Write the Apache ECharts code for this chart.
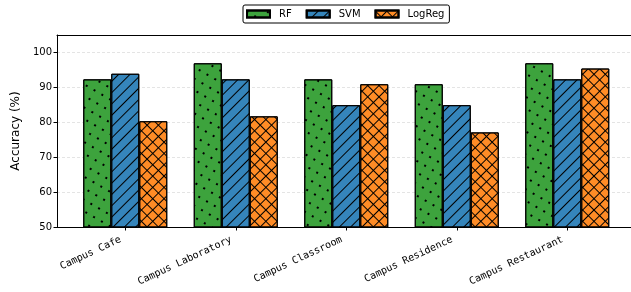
<!DOCTYPE html>
<html>
<head>
<meta charset="UTF-8" />
<title>Accuracy by location</title>
<script src="https://cdn.jsdelivr.net/npm/echarts@6/dist/echarts.min.js"></script>
<style>
  html, body { margin: 0; padding: 0; background: #fff; }
  #main { width: 631px; height: 292px; }
</style>
</head>
<body>
<div id="main"></div>
<script>
// data
var categories = ['Campus Cafe', 'Campus Laboratory', 'Campus Classroom', 'Campus Residence', 'Campus Restaurant'];
var rfValues = [92.3, 96.9, 92.3, 90.9, 96.9];
var svmValues = [93.9, 92.3, 84.9, 84.9, 92.3];
var logregValues = [80.3, 81.7, 90.9, 77.1, 95.4];
var yTicks = [50, 60, 70, 80, 90, 100];

// hatch patterns (matplotlib '.', '/', 'x')
var dotsDecal = {
    symbol: 'rect', symbolSize: 1, color: '#000',
    dashArrayX: [[2, 7]], dashArrayY: [2, 7.5]
};
var slashDecal = {
    symbol: 'rect', symbolSize: 1, color: '#000',
    dashArrayX: [1, 0], dashArrayY: [1, 6.5], rotation: -Math.PI / 4
};
var crossDecal = {
    symbol: 'rect', symbolSize: 1, color: '#000',
    dashArrayX: [[1, 0], [1, 6.5]], dashArrayY: [1, 0, 6.5, 0], rotation: Math.PI / 4
};

function barSeries(name, values, color, decal) {
    return {
        name: name,
        type: 'bar',
        xAxisIndex: 0,
        yAxisIndex: 0,
        data: values,
        barWidth: 28,
        barGap: '0%',
        itemStyle: { color: color, borderColor: '#000', borderWidth: 1, decal: decal },
        emphasis: { disabled: true }
    };
}

var myChart = echarts.init(document.getElementById('main'));
myChart.setOption({
    animation: false,
    aria: { enabled: true, decal: { show: true } },
    textStyle: { fontFamily: 'DejaVu Sans' },
    legend: {
        top: 5,
        left: 243,
        icon: 'rect',
        itemWidth: 23,
        itemHeight: 7,
        itemGap: 14,
        padding: [4, 5, 4, 3],
        borderColor: '#000',
        borderWidth: 1,
        borderRadius: 2,
        textStyle: { fontSize: 10, color: '#000', fontFamily: 'DejaVu Sans', padding: [0, 0, 0, 4] },
        data: ['RF', 'SVM', 'LogReg']
    },
    grid: [
        { left: 70, right: 8.5, top: 35, bottom: 65 },
        { left: 57, right: 0, top: 35, bottom: 65 }
    ],
    xAxis: [{
        type: 'category',
        gridIndex: 0,
        data: categories,
        axisLine: { show: false },
        axisTick: { show: true, alignWithLabel: true, length: 3.5, lineStyle: { color: '#000' } },
        axisLabel: {
            rotate: 25,
            margin: 10,
            padding: [0, 5, 0, 0],
            fontSize: 10,
            color: '#000',
            fontFamily: 'DejaVu Sans Mono',
            interval: 0
        }
    }, {
        type: 'value',
        gridIndex: 1,
        position: 'bottom',
        min: 0, max: 1,
        axisLine: { show: true, onZero: false, lineStyle: { color: '#000', width: 1 } },
        axisTick: { show: false },
        axisLabel: { show: false },
        splitLine: { show: false }
    }, {
        type: 'value',
        gridIndex: 1,
        position: 'top',
        min: 0, max: 1,
        axisLine: { show: true, onZero: false, lineStyle: { color: '#000', width: 1 } },
        axisTick: { show: false },
        axisLabel: { show: false },
        splitLine: { show: false }
    }],
    yAxis: [{
        type: 'value',
        gridIndex: 0,
        min: 50, max: 105,
        show: false
    }, {
        type: 'value',
        gridIndex: 1,
        min: yTicks[0], max: 105, interval: 10,
        name: 'Accuracy (%)',
        nameLocation: 'middle',
        nameGap: 29,
        nameTextStyle: { fontSize: 12, color: '#000', fontFamily: 'DejaVu Sans' },
        axisLine: { show: true, lineStyle: { color: '#000', width: 1 } },
        axisTick: { show: true, length: 3.5, lineStyle: { color: '#000' }, customValues: yTicks },
        axisLabel: { fontSize: 10, color: '#000', margin: 5, customValues: yTicks },
        splitLine: { show: true, lineStyle: { color: '#dddddd', type: [3, 2], width: 0.8 } }
    }],
    series: [
        barSeries('RF', rfValues, '#3da33d', dotsDecal),
        barSeries('SVM', svmValues, '#3585bb', slashDecal),
        barSeries('LogReg', logregValues, '#ff8c26', crossDecal)
    ]
});
</script>
</body>
</html>
